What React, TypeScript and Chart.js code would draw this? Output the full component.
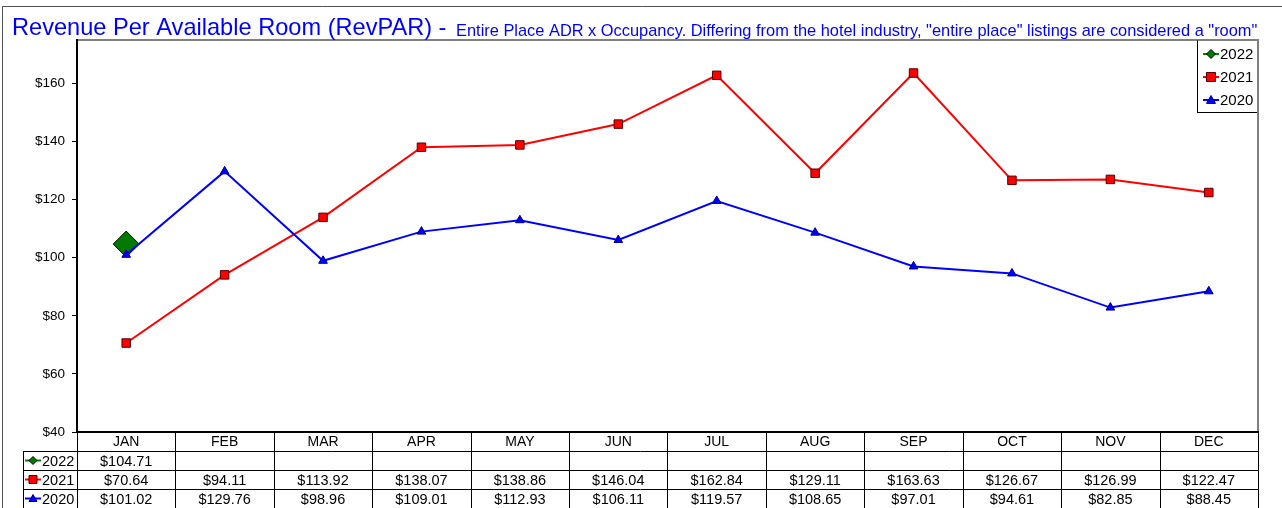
import React, { useEffect, useRef } from 'react';
import { Chart, registerables } from 'chart.js';

Chart.register(...registerables);

const months = ['JAN', 'FEB', 'MAR', 'APR', 'MAY', 'JUN', 'JUL', 'AUG', 'SEP', 'OCT', 'NOV', 'DEC'];
const rev2022: (number | null)[] = [104.71, null, null, null, null, null, null, null, null, null, null, null];
const rev2021: (number | null)[] = [70.64, 94.11, 113.92, 138.07, 138.86, 146.04, 162.84, 129.11, 163.63, 126.67, 126.99, 122.47];
const rev2020: (number | null)[] = [101.02, 129.76, 98.96, 109.01, 112.93, 106.11, 119.57, 108.65, 97.01, 94.61, 82.85, 88.45];
const yTicks = [40, 60, 80, 100, 120, 140, 160];
const titleMain = 'Revenue Per Available Room (RevPAR) - ';
const titleSub = 'Entire Place ADR x Occupancy. Differing from the hotel industry, "entire place" listings are considered a "room"';

const FONT = '"Liberation Sans", Arial, sans-serif';
const W = 1282;
const H = 508;

type Series = { label: string; data: (number | null)[]; color: string; fill: string; border: string; style: string };
const series: Series[] = [
  { label: '2022', data: rev2022, color: '#008000', fill: '#007A00', border: '#000000', style: 'diamond' },
  { label: '2021', data: rev2021, color: '#FF0000', fill: '#FF0000', border: '#500000', style: 'square' },
  { label: '2020', data: rev2020, color: '#0000FF', fill: '#0000FF', border: '#000080', style: 'triangle' },
];

function drawMarker(ctx: CanvasRenderingContext2D, style: string, x: number, y: number, r: number, fill: string, stroke: string) {
  ctx.beginPath();
  if (style === 'diamond') {
    ctx.moveTo(x, y - r);
    ctx.lineTo(x + r, y);
    ctx.lineTo(x, y + r);
    ctx.lineTo(x - r, y);
    ctx.closePath();
  } else if (style === 'square') {
    ctx.rect(x - r, y - r, 2 * r, 2 * r);
  } else {
    ctx.moveTo(x, y - r);
    ctx.lineTo(x + r, y + r * 0.75);
    ctx.lineTo(x - r, y + r * 0.75);
    ctx.closePath();
  }
  ctx.fillStyle = fill;
  ctx.fill();
  ctx.lineWidth = 1;
  ctx.strokeStyle = stroke;
  ctx.stroke();
}

function legendSample(ctx: CanvasRenderingContext2D, s: Series, x: number, y: number, len: number, r: number) {
  ctx.beginPath();
  ctx.moveTo(x, y);
  ctx.lineTo(x + len, y);
  ctx.strokeStyle = s.color;
  ctx.lineWidth = 2;
  ctx.stroke();
  drawMarker(ctx, s.style, x + len / 2, y, r, s.fill, s.border);
}

const framePlugin = {
  id: 'frame',
  beforeDraw(chart: any) {
    const ctx: CanvasRenderingContext2D = chart.ctx;
    const a = chart.chartArea;
    ctx.save();
    ctx.fillStyle = '#ffffff';
    ctx.fillRect(0, 0, W, H);
    // outer frame
    ctx.strokeStyle = '#505050';
    ctx.lineWidth = 1;
    ctx.beginPath();
    ctx.moveTo(2.5, H);
    ctx.lineTo(2.5, 6.5);
    ctx.lineTo(W, 6.5);
    ctx.stroke();
    // plot top/right border
    ctx.strokeStyle = '#808080';
    ctx.lineWidth = 2;
    ctx.beginPath();
    ctx.moveTo(a.left, a.top);
    ctx.lineTo(a.right, a.top);
    ctx.lineTo(a.right, a.bottom);
    ctx.stroke();
    // title
    ctx.fillStyle = '#0000FF';
    ctx.textBaseline = 'alphabetic';
    ctx.textAlign = 'left';
    ctx.font = `23.6px ${FONT}`;
    ctx.fillText(titleMain, 12, 35);
    const w = ctx.measureText(titleMain).width;
    ctx.font = `16.4px ${FONT}`;
    ctx.fillText(titleSub, 15 + w, 36);
    ctx.restore();
  },
  afterDraw(chart: any) {
    const ctx: CanvasRenderingContext2D = chart.ctx;
    const a = chart.chartArea;
    const xs = chart.scales.x;
    const colW = (a.right - a.left) / months.length;
    const rowH = 19;
    const top = a.bottom;
    const legLeft = 23;
    ctx.save();
    // table grid
    ctx.strokeStyle = '#000000';
    ctx.lineWidth = 1;
    ctx.beginPath();
    for (let r = 1; r <= 4; r++) {
      const y = Math.round(top + r * rowH) + 0.5;
      ctx.moveTo(legLeft, y);
      ctx.lineTo(a.right, y);
    }
    for (let i = 0; i <= months.length; i++) {
      const cx = i < months.length ? xs.getPixelForTick(i) - colW / 2 : xs.getPixelForTick(months.length - 1) + colW / 2;
      const x = Math.round(cx) + 0.5;
      ctx.moveTo(x, top);
      ctx.lineTo(x, H);
    }
    ctx.moveTo(legLeft + 0.5, top + rowH);
    ctx.lineTo(legLeft + 0.5, H);
    ctx.stroke();
    // header text
    ctx.fillStyle = '#000000';
    ctx.font = `14px ${FONT}`;
    ctx.textAlign = 'center';
    ctx.textBaseline = 'middle';
    months.forEach((m, i) => {
      ctx.fillText(m, xs.getPixelForTick(i), top + rowH / 2 + 1);
    });
    // rows
    series.forEach((s, r) => {
      const yc = top + rowH * (r + 1) + rowH / 2 + 1;
      s.data.forEach((v, i) => {
        if (v == null) return;
        ctx.fillStyle = '#000000';
        ctx.textAlign = 'center';
        ctx.font = `14.5px ${FONT}`;
        ctx.fillText('$' + v.toFixed(2), xs.getPixelForTick(i), yc);
      });
      legendSample(ctx, s, 25, yc - 1, 16, 4);
      ctx.fillStyle = '#000000';
      ctx.textAlign = 'left';
      ctx.font = `14.5px ${FONT}`;
      ctx.fillText(s.label, 42, yc);
    });
    // legend box
    const lx = 1197.5;
    const ly = a.top + 0.5;
    const lw = a.right - lx;
    const lh = 72;
    ctx.fillStyle = '#ffffff';
    ctx.fillRect(lx, ly, lw, lh);
    ctx.strokeStyle = '#000000';
    ctx.lineWidth = 1;
    ctx.strokeRect(lx, ly, lw, lh);
    ctx.strokeStyle = '#808080';
    ctx.lineWidth = 2;
    ctx.beginPath();
    ctx.moveTo(lx, a.top);
    ctx.lineTo(a.right, a.top);
    ctx.lineTo(a.right, a.top + lh + 2);
    ctx.stroke();
    series.forEach((s, i) => {
      const y = a.top + 14 + i * 23;
      legendSample(ctx, s, 1203, y, 16, 4.5);
      ctx.fillStyle = '#000000';
      ctx.textAlign = 'left';
      ctx.textBaseline = 'middle';
      ctx.font = `15px ${FONT}`;
      ctx.fillText(s.label, 1220, y + 1);
    });
    ctx.restore();
  },
};

export default function App() {
  const ref = useRef<HTMLCanvasElement>(null);
  useEffect(() => {
    const canvas = ref.current;
    if (!canvas) return;
    const ordered = [series[2], series[1], series[0]];
    const chart = new Chart(canvas, {
      type: 'line',
      data: {
        labels: months,
        datasets: ordered.map((s) => ({
          label: s.label,
          data: s.data,
          borderColor: s.color,
          backgroundColor: s.fill,
          borderWidth: 2,
          tension: 0,
          spanGaps: false,
          pointStyle: s.style === 'diamond' ? 'rectRot' : s.style === 'square' ? 'rect' : 'triangle',
          pointRadius: s.style === 'diamond' ? 13 : s.style === 'square' ? 6 : 5,
          pointBackgroundColor: s.fill,
          pointBorderColor: s.border,
          pointBorderWidth: 1,
        })),
      },
      options: {
        responsive: false,
        animation: false,
        devicePixelRatio: 1,
        layout: { padding: { top: 40, right: 24, left: 0, bottom: 0 } },
        plugins: {
          legend: { display: false },
          title: { display: false },
          tooltip: { enabled: false },
        },
        scales: {
          x: {
            type: 'category',
            offset: true,
            grid: { display: false },
            ticks: { display: false },
            border: { display: true, color: '#000000', width: 2 },
            afterFit: (scale: any) => {
              scale.height = 76;
            },
          },
          y: {
            min: 40,
            max: 175,
            grid: { drawOnChartArea: false, drawTicks: true, tickLength: 5, color: '#000000' },
            border: { display: true, color: '#000000', width: 2 },
            ticks: {
              color: '#000000',
              padding: 7,
              font: { family: FONT, size: 13.5 },
              callback: (v: any) => '$' + v,
            },
            afterBuildTicks: (scale: any) => {
              scale.ticks = yTicks.map((v) => ({ value: v }));
            },
            afterFit: (scale: any) => {
              scale.width = 77;
            },
          },
        },
      },
      plugins: [framePlugin],
    } as any);
    return () => chart.destroy();
  }, []);
  return (
    <div style={{ position: 'absolute', left: 0, top: 0, width: W, height: H, background: '#ffffff' }}>
      <canvas ref={ref} width={W} height={H} style={{ display: 'block', width: W, height: H }} />
    </div>
  );
}
